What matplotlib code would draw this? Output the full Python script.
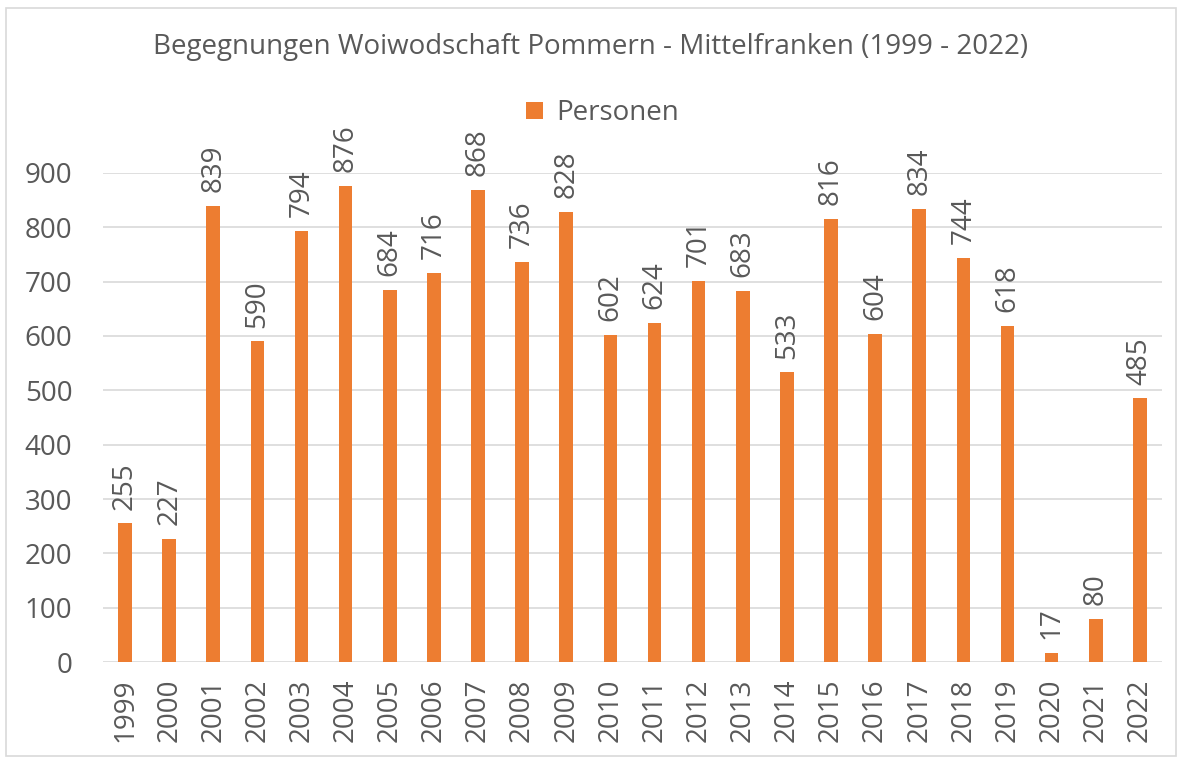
import matplotlib.pyplot as plt
from matplotlib.patches import Rectangle

years = [str(y) for y in range(1999, 2023)]
personen = [255, 227, 839, 590, 794, 876, 684, 716, 868, 736, 828, 602,
            624, 701, 683, 533, 816, 604, 834, 744, 618, 17, 80, 485]
yticks = [0, 100, 200, 300, 400, 500, 600, 700, 800, 900]

ORANGE = '#ED7D31'
GREY = '#595959'
plt.rcParams['font.family'] = ['Open Sans', 'DejaVu Sans']

fig = plt.figure(figsize=(11.82, 7.60), dpi=100)
ax = fig.add_axes([0.0871, 0.1289, 0.8959, 0.6435])

x = range(len(years))
bars = ax.bar(x, personen, width=0.31, color=ORANGE, label='Personen', zorder=2)
for xi, v in zip(x, personen):
    ax.annotate(str(v), (xi, v), xytext=(0, 10), textcoords='offset points',
                rotation=90, ha='center', va='bottom', fontsize=20, color=GREY)

ax.set_xlim(-0.5, len(years) - 0.5)
ax.set_ylim(0, 900)
ax.set_yticks(yticks)
ax.set_xticks(list(x))
ax.set_xticklabels(years, rotation=90)
ax.tick_params(axis='both', length=0, labelsize=20, labelcolor=GREY)
ax.tick_params(axis='x', pad=12)
ax.tick_params(axis='y', pad=22)
ax.grid(axis='y', color='#D9D9D9', lw=1.2, zorder=0)
for s in ax.spines.values():
    s.set_visible(False)

fig.text(0.5, 0.938, 'Begegnungen Woiwodschaft Pommern - Mittelfranken (1999 - 2022)',
         ha='center', va='center', fontsize=20, color=GREY)
fig.legend(handles=[bars], loc='center', bbox_to_anchor=(0.51, 0.851), frameon=False,
           fontsize=20, labelcolor=GREY, handlelength=0.6, handleheight=0.6,
           handletextpad=0.5)

fig.patches.append(Rectangle((0.005, 0.005), 0.99, 0.985, transform=fig.transFigure,
                             fill=False, edgecolor='#D9D9D9', lw=1.2))

fig.savefig('out.png', dpi=100, facecolor='white')
